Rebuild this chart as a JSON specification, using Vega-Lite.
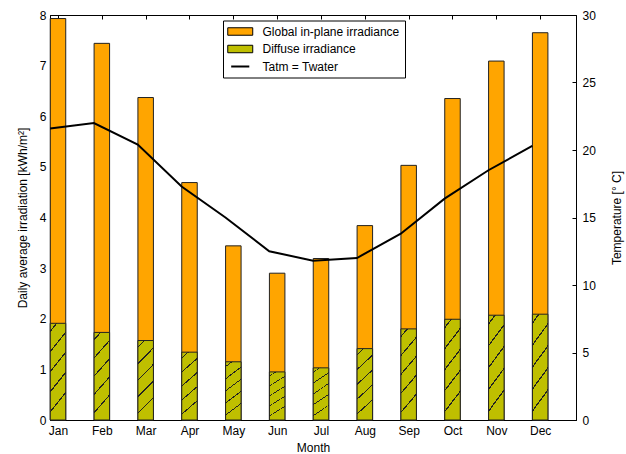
{
  "$schema": "https://vega.github.io/schema/vega-lite/v6.json",
  "width": 526,
  "height": 405,
  "autosize": {"type": "none"},
  "padding": {"left": 50, "top": 15, "right": 50, "bottom": 34},
  "background": "white",
  "config": {
    "font": "Liberation Sans",
    "view": {"stroke": "black", "strokeWidth": 1},
    "axis": {
      "labelFont": "Liberation Sans",
      "labelFontSize": 12,
      "labelColor": "black",
      "titleFont": "Liberation Sans",
      "titleFontSize": 12,
      "titleFontWeight": "normal",
      "titleColor": "black",
      "domainColor": "black",
      "tickColor": "black",
      "grid": false,
      "tickSize": -4,
      "tickWidth": 1,
      "domainWidth": 1
    }
  },
  "data": {
    "values": [
      {"month": "Jan", "global": 7.93, "diffuse": 1.91, "temp": 21.6},
      {"month": "Feb", "global": 7.44, "diffuse": 1.73, "temp": 22.0},
      {"month": "Mar", "global": 6.37, "diffuse": 1.57, "temp": 20.4},
      {"month": "Apr", "global": 4.69, "diffuse": 1.34, "temp": 17.3},
      {"month": "May", "global": 3.44, "diffuse": 1.15, "temp": 15.0},
      {"month": "Jun", "global": 2.90, "diffuse": 0.95, "temp": 12.5},
      {"month": "Jul", "global": 3.19, "diffuse": 1.03, "temp": 11.8},
      {"month": "Aug", "global": 3.84, "diffuse": 1.41, "temp": 12.0},
      {"month": "Sep", "global": 5.03, "diffuse": 1.80, "temp": 13.8},
      {"month": "Oct", "global": 6.35, "diffuse": 1.99, "temp": 16.4},
      {"month": "Nov", "global": 7.09, "diffuse": 2.07, "temp": 18.5},
      {"month": "Dec", "global": 7.65, "diffuse": 2.09, "temp": 20.3}
    ]
  },
  "layer": [
    {
      "mark": {"type": "bar", "width": 15.5, "stroke": "#222222"},
      "encoding": {
        "x": {
          "field": "month", "type": "ordinal", "sort": null,
          "scale": {"type": "point", "padding": 0.5, "align": 0.1825},
          "axis": {"orient": "bottom", "title": "Month", "labelAngle": 0, "labelPadding": 9, "titlePadding": 6}
        },
        "y": {
          "field": "global", "type": "quantitative",
          "scale": {"domain": [0, 8], "nice": false},
          "axis": {"title": "Daily average irradiation [kWh/m²]", "values": [0, 1, 2, 3, 4, 5, 6, 7, 8], "labelPadding": 8, "titlePadding": 10}
        },
        "color": {
          "datum": "Global in-plane irradiance", "type": "nominal",
          "scale": {
            "domain": ["Global in-plane irradiance", "Diffuse irradiance", "Tatm = Twater"],
            "range": ["#FFA500", "#BFBF00", "black"]
          },
          "legend": {
            "orient": "none", "legendX": 173, "legendY": 5.5, "title": null, "direction": "vertical",
            "padding": 5, "strokeColor": "black", "fillColor": "white", "cornerRadius": 0,
            "labelFont": "Liberation Sans", "labelFontSize": 12, "labelColor": "black", "labelLimit": 0,
            "labelOffset": 22.5, "rowPadding": 5.5, "symbolSize": 156,
            "symbolType": {"expr": "datum.value === 'Tatm = Twater' ? 'M-0.45,0H2.45' : 'M-1,-0.6H3V0.6H-1Z'"},
            "symbolStrokeWidth": {"expr": "datum.value === 'Tatm = Twater' ? 2 : 1"},
            "symbolStrokeColor": "black"
          }
        }
      }
    },
    {
      "mark": {
        "type": "bar", "width": 15.5, "stroke": "#222222",
        "fill": {
          "gradient": "linear", "x1": 0, "y1": 0, "x2": 0.2, "y2": 1,
          "stops": [
            {"offset": 0, "color": "#BFBF00"},
            {"offset": 0.071, "color": "#BFBF00"}, {"offset": 0.071, "color": "#222222"},
            {"offset": 0.089, "color": "#222222"}, {"offset": 0.089, "color": "#BFBF00"},
            {"offset": 0.271, "color": "#BFBF00"}, {"offset": 0.271, "color": "#222222"},
            {"offset": 0.289, "color": "#222222"}, {"offset": 0.289, "color": "#BFBF00"},
            {"offset": 0.471, "color": "#BFBF00"}, {"offset": 0.471, "color": "#222222"},
            {"offset": 0.489, "color": "#222222"}, {"offset": 0.489, "color": "#BFBF00"},
            {"offset": 0.671, "color": "#BFBF00"}, {"offset": 0.671, "color": "#222222"},
            {"offset": 0.689, "color": "#222222"}, {"offset": 0.689, "color": "#BFBF00"},
            {"offset": 0.871, "color": "#BFBF00"}, {"offset": 0.871, "color": "#222222"},
            {"offset": 0.889, "color": "#222222"}, {"offset": 0.889, "color": "#BFBF00"},
            {"offset": 1, "color": "#BFBF00"}
          ]
        }
      },
      "encoding": {
        "x": {
          "field": "month", "type": "ordinal", "sort": null,
          "scale": {"type": "point", "padding": 0.5, "align": 0.1825},
          "axis": {"orient": "top", "labels": false, "title": null, "domain": false}
        },
        "y": {
          "field": "diffuse", "type": "quantitative",
          "scale": {"domain": [0, 8], "nice": false},
          "axis": null
        }
      }
    },
    {
      "mark": {"type": "line", "strokeWidth": 2, "color": "black", "xOffset": -7.9},
      "encoding": {
        "x": {
          "field": "month", "type": "ordinal", "sort": null,
          "scale": {"type": "point", "padding": 0.5, "align": 0.1825},
          "axis": null
        },
        "y": {
          "field": "temp", "type": "quantitative",
          "scale": {"domain": [0, 30], "nice": false},
          "axis": {"orient": "right", "title": "Temperature [° C]", "titleAngle": 270, "values": [0, 5, 10, 15, 20, 25, 30], "labelPadding": 10, "titlePadding": 28}
        }
      }
    }
  ],
  "resolve": {"scale": {"y": "independent"}, "axis": {"x": "independent", "y": "independent"}}
}
